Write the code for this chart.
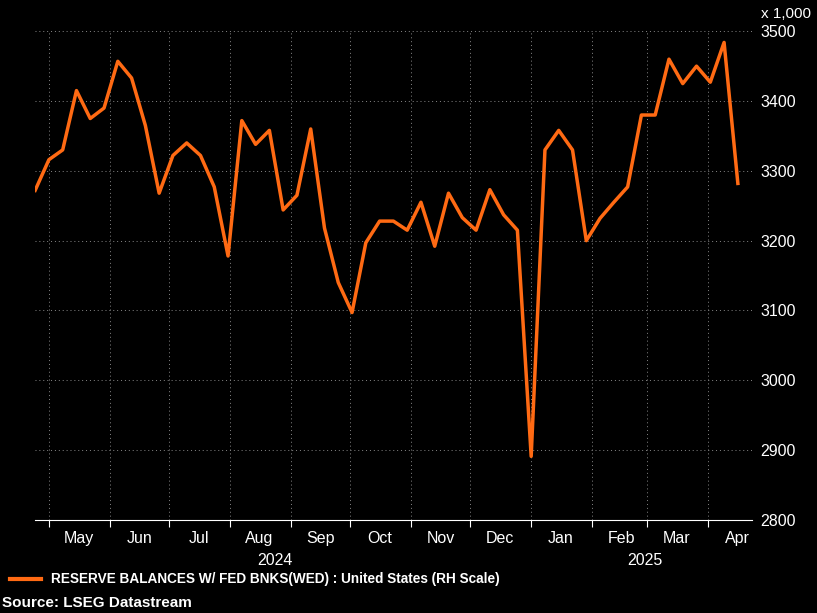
import numpy as np, pandas as pd, matplotlib
matplotlib.use("Agg")
import matplotlib.pyplot as plt, matplotlib.dates as mdates, seaborn as sns

plt.rcParams["font.family"] = "Liberation Sans"

dates = pd.date_range("2024-04-24", "2025-04-16", freq="7D")
values = [3272,3316,3330,3415,3375,3390,3457,3433,3365,3268,
          3322,3340,3322,3277,3178,3372,3338,3358,3244,3265,
          3360,3218,3140,3097,3197,3228,3228,3215,3255,3192,
          3268,3233,3215,3273,3237,3215,2891,3330,3358,3330,
          3200,3232,3255,3277,3380,3380,3460,3425,3450,3427,
          3484,3282]
months = ["May","Jun","Jul","Aug","Sep","Oct","Nov","Dec","Jan","Feb","Mar","Apr"]
df = pd.DataFrame({"date": dates, "value": values})

fig = plt.figure(figsize=(8.17, 6.13), dpi=100, facecolor="black")
ax = fig.add_axes([0.043, 0.152, 0.877, 0.797], facecolor="black")
sns.lineplot(data=df, x="date", y="value", ax=ax, color="#ff6a13", linewidth=2.5)
ax.set_xlim(pd.Timestamp("2024-04-24"), pd.Timestamp("2025-04-23"))
ax.set_ylim(2800, 3500)
ax.yaxis.tick_right()
ax.set_yticks(range(2800, 3501, 100))
ax.tick_params(axis="y", colors="white", labelsize=11.5, length=0, pad=6)
ticks = pd.date_range("2024-05-01", "2025-04-01", freq="MS")
ax.set_xticks(ticks)
ax.set_xticklabels([])
ax.tick_params(axis="x", colors="white", length=5, direction="out")
tr = matplotlib.transforms.blended_transform_factory(ax.transData, ax.transAxes)
for t, m in zip(ticks, months):
    ax.text(t + pd.Timedelta(days=15), -0.022, m, transform=tr, color="white",
            fontsize=11.5, ha="center", va="top")
ax.text(pd.Timestamp("2024-08-24"), -0.068, "2024", transform=tr, color="white", fontsize=11.5, ha="center", va="top")
ax.text(pd.Timestamp("2025-02-28"), -0.068, "2025", transform=tr, color="white", fontsize=11.5, ha="center", va="top")
ax.grid(True, color="#888888", linestyle=(0, (1, 3)), linewidth=0.7)
for s in ["top", "right", "left"]:
    ax.spines[s].set_visible(False)
ax.spines["bottom"].set_color("white")
ax.set_xlabel(""); ax.set_ylabel("")
fig.text(0.932, 0.988, "x 1,000", color="white", fontsize=11, ha="left", va="top")
fig.lines.append(matplotlib.lines.Line2D([0.012, 0.05], [0.056, 0.056], transform=fig.transFigure,
                                         color="#ff6a13", linewidth=3))
fig.text(0.062, 0.056, "RESERVE BALANCES W/ FED BNKS(WED) : United States (RH Scale)",
         color="white", fontsize=9.8, fontweight="bold", va="center")
fig.text(0.003, 0.016, "Source: LSEG Datastream", color="white", fontsize=11,
         fontweight="bold", va="center")
fig.savefig("out.png", dpi=100, facecolor="black")
